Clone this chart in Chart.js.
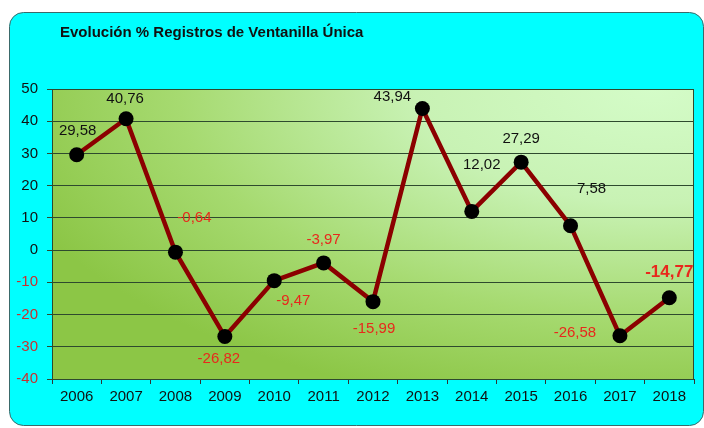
<!DOCTYPE html>
<html>
<head>
<meta charset="utf-8">
<script src="https://cdn.jsdelivr.net/npm/chart.js@4.4.0/dist/chart.umd.min.js"></script>
<style>
  html, body { margin: 0; padding: 0; background: #ffffff; }
  #wrap { width: 704px; height: 428px; }
</style>
</head>
<body>
<div id="wrap"><canvas id="myChart" width="704" height="428"></canvas></div>
<script>
var years = ["2006", "2007", "2008", "2009", "2010", "2011", "2012", "2013", "2014", "2015", "2016", "2017", "2018"];
var evolucion = [29.58, 40.76, -0.64, -26.82, -9.47, -3.97, -15.99, 43.94, 12.02, 27.29, 7.58, -26.58, -14.77];
var yTicks = [50, 40, 30, 20, 10, 0, -10, -20, -30, -40];

// where each value label sits relative to its point (dx, dy in px)
var labelOffsets = [[1, -24], [-1, -20], [19, -34], [-6, 22], [19, 20], [0, -23], [1, 27], [-30, -12], [10, -47], [0, -23], [21, -37], [-45, -3], [0, -25]];

var titulo = "Evolución % Registros de Ventanilla Única";

function fmt(v) {
  return v.toFixed(2).replace(".", ",");
}

var fondo = {
  id: "fondo",
  beforeDraw: function(chart) {
    var ctx = chart.ctx;
    ctx.save();
    ctx.fillStyle = "#ffffff";
    ctx.fillRect(0, 0, chart.width, chart.height);
    // caja cyan
    ctx.beginPath();
    ctx.roundRect(9.5, 12.5, 694, 413, 14);
    ctx.fillStyle = "#00ffff";
    ctx.fill();
    ctx.strokeStyle = "#3a6a6a";
    ctx.lineWidth = 1;
    ctx.stroke();
    // titulo
    ctx.fillStyle = "#111111";
    ctx.font = "bold 15px 'Liberation Sans', Arial, sans-serif";
    ctx.textBaseline = "middle";
    ctx.fillText(titulo, 60, 33);
    // degradado del area
    var a = chart.chartArea;
    ctx.save();
    ctx.beginPath();
    ctx.rect(a.left, a.top, a.right - a.left, a.bottom - a.top);
    ctx.clip();
    ctx.translate(a.right - 40, a.top);
    ctx.scale(1, 0.48);
    var g = ctx.createRadialGradient(0, 0, 0, 0, 0, 680);
    g.addColorStop(0, "#d4fcc8");
    g.addColorStop(0.35, "#c8f2b4");
    g.addColorStop(0.7, "#a6da70");
    g.addColorStop(1, "#8cc646");
    ctx.fillStyle = g;
    ctx.fillRect(-800, -100, 1700, 1000);
    ctx.restore();
    ctx.restore();
  },
  afterDraw: function(chart) {
    var ctx = chart.ctx;
    var a = chart.chartArea;
    ctx.save();
    ctx.strokeStyle = "#2e4a2e";
    ctx.lineWidth = 1;
    ctx.strokeRect(a.left + 0.5, a.top + 0.5, a.right - a.left - 1, a.bottom - a.top);
    ctx.restore();
  }
};

var etiquetas = {
  id: "etiquetas",
  afterDatasetsDraw: function(chart) {
    var ctx = chart.ctx;
    var pts = chart.getDatasetMeta(0).data;
    ctx.save();
    ctx.textAlign = "center";
    ctx.textBaseline = "middle";
    for (var i = 0; i < pts.length; i++) {
      var v = evolucion[i];
      var ultimo = i == pts.length - 1;
      ctx.font = (ultimo ? "bold 17px " : "15px ") + "'Liberation Sans', Arial, sans-serif";
      ctx.fillStyle = v < 0 ? "#e8281c" : "#111111";
      ctx.fillText(fmt(v), pts[i].x + labelOffsets[i][0], pts[i].y + labelOffsets[i][1]);
    }
    ctx.restore();
  }
};

new Chart("myChart", {
  type: "line",
  data: {
    labels: years,
    datasets: [{
      data: evolucion,
      borderColor: "#8b0000",
      borderWidth: 4.5,
      tension: 0,
      pointRadius: 7.5,
      pointBackgroundColor: "#000000",
      pointBorderColor: "#000000",
      pointBorderWidth: 0
    }]
  },
  options: {
    responsive: false,
    animation: false,
    layout: { padding: { left: 10, right: 10, top: 89, bottom: 20 } },
    plugins: {
      legend: { display: false },
      title: { display: false },
      tooltip: { enabled: false }
    },
    scales: {
      x: {
        offset: true,
        grid: {
          offset: true,
          drawOnChartArea: false,
          drawTicks: true,
          tickLength: 5,
          color: "#333333"
        },
        border: { display: false },
        ticks: {
          color: "#111111",
          padding: 4,
          maxRotation: 0,
          font: { family: "'Liberation Sans Narrow', 'Arial Narrow', 'Liberation Sans', sans-serif", size: 15 }
        },
        afterFit: function(scale) { scale.height = 29; }
      },
      y: {
        min: -40,
        max: 50,
        afterBuildTicks: function(scale) {
          scale.ticks = yTicks.map(function(t) { return { value: t }; });
        },
        grid: {
          color: "#2e4a2e",
          lineWidth: 1,
          tickLength: 5
        },
        border: { display: false },
        ticks: {
          padding: 9,
          color: function(c) { return c.tick.value < 0 ? "#c83030" : "#111111"; },
          font: { family: "'Liberation Sans', Arial, sans-serif", size: 15 }
        },
        afterFit: function(scale) { scale.width = 42; }
      }
    }
  },
  plugins: [fondo, etiquetas]
});
</script>
</body>
</html>
